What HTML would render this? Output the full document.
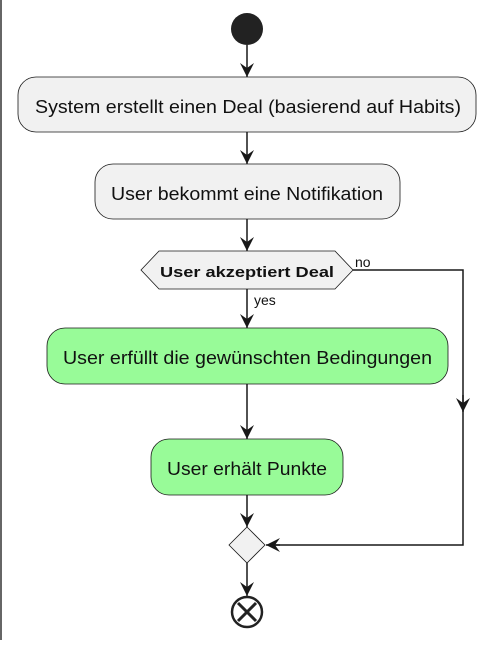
<!DOCTYPE html>
<html><head><style>body{margin:0;background:#fff}</style></head><body>
<svg width="503" height="645" xmlns="http://www.w3.org/2000/svg" font-family="Liberation Sans, sans-serif">
<line x1="1" y1="0" x2="1" y2="640" stroke="#333" stroke-width="1.5"/>
<defs><marker id="a" markerWidth="16" markerHeight="16" refX="14" refY="7" orient="auto" markerUnits="userSpaceOnUse"><path d="M0,0 L14,7 L0,14 L5,7 Z" fill="#181818"/></marker></defs>
<g stroke="#181818" stroke-width="1.5" fill="none">
<line x1="247" y1="45" x2="247" y2="77" marker-end="url(#a)"/>
<line x1="247" y1="132" x2="247" y2="164" marker-end="url(#a)"/>
<line x1="247" y1="219" x2="247" y2="251" marker-end="url(#a)"/>
<line x1="247" y1="289" x2="247" y2="328" marker-end="url(#a)"/>
<line x1="247" y1="384" x2="247" y2="439" marker-end="url(#a)"/>
<line x1="247" y1="495" x2="247" y2="527" marker-end="url(#a)"/>
<line x1="247" y1="563" x2="247" y2="596" marker-end="url(#a)"/>
<polyline points="353,270 463,270 463,545 268,545"/>
<line x1="280" y1="545" x2="266" y2="545" marker-end="url(#a)"/>
<line x1="463" y1="395" x2="463" y2="412" marker-end="url(#a)"/>
</g>
<circle cx="247" cy="29" r="16" fill="#222"/>
<g font-size="18" fill="#111">
<rect x="18" y="77" width="458" height="55" rx="18" fill="#f1f1f1" stroke="#181818" stroke-width="0.8"/>
<text x="35" y="113" textLength="426" lengthAdjust="spacingAndGlyphs">System erstellt einen Deal (basierend auf Habits)</text>
<rect x="95" y="164" width="305" height="55" rx="18" fill="#f1f1f1" stroke="#181818" stroke-width="0.8"/>
<text x="111" y="200" textLength="272" lengthAdjust="spacingAndGlyphs">User bekommt eine Notifikation</text>
<polygon points="141,270 159,251 335,251 353,270 335,289 159,289" fill="#f1f1f1" stroke="#181818" stroke-width="0.8"/>
<text x="160" y="277" font-size="15" font-weight="bold" textLength="174" lengthAdjust="spacingAndGlyphs">User akzeptiert Deal</text>
<text x="355" y="267" font-size="14">no</text>
<text x="254" y="305" font-size="14">yes</text>
<rect x="47" y="328" width="401" height="56" rx="18" fill="#98fb98" stroke="#181818" stroke-width="0.8"/>
<text x="63" y="364" textLength="369" lengthAdjust="spacingAndGlyphs">User erfüllt die gewünschten Bedingungen</text>
<rect x="151" y="439" width="192" height="56" rx="18" fill="#98fb98" stroke="#181818" stroke-width="0.8"/>
<text x="167" y="475" textLength="160" lengthAdjust="spacingAndGlyphs">User erhält Punkte</text>
</g>
<polygon points="247,527 265,545 247,563 229,545" fill="#f1f1f1" stroke="#181818" stroke-width="0.8"/>
<circle cx="247" cy="612" r="15" fill="#fff" stroke="#222" stroke-width="2.5"/>
<g stroke="#222" stroke-width="3"><line x1="238" y1="603" x2="256" y2="621"/><line x1="256" y1="603" x2="238" y2="621"/></g>
</svg>
</body></html>
